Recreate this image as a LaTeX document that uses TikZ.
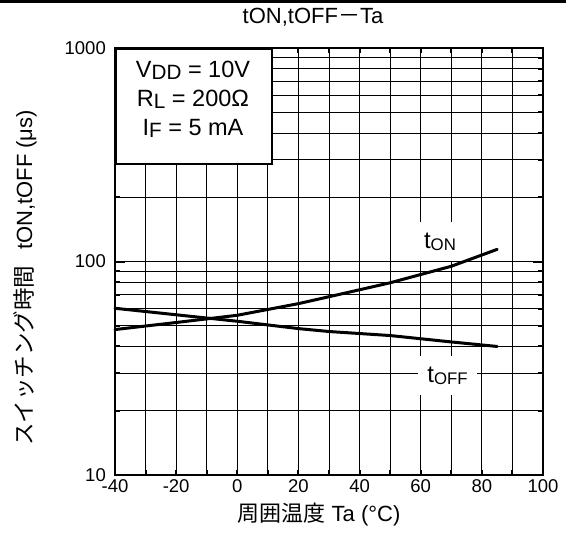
\documentclass[tikz,border=0pt]{standalone}
\usepackage{fontspec}
\setmainfont{Liberation Sans}
\newfontfamily\jpfont{Noto Sans CJK JP}
\usepackage{graphicx}
\usetikzlibrary{calc}

% lowered small letters (VDD, tON, ...)
\newcommand{\lo}[2][0.8]{\raisebox{-0.1em}{\scalebox{#1}{#2}}}

\begin{document}
\begin{tikzpicture}[x=1pt,y=1pt,
    gridline/.style={line width=0.9pt},
    tickline/.style={line width=2pt},
    frameline/.style={line width=2pt},
    curve/.style={line width=3pt, line join=round, line cap=round},
    ticklbl/.style={font=\fontsize{18.5}{18.5}\selectfont, inner sep=0pt},
    axislbl/.style={font=\fontsize{22}{22}\selectfont, inner sep=0pt},
    curvelbl/.style={fill=white, font=\fontsize{24}{24}\selectfont,
      inner sep=0pt, minimum height=39pt}]

  \useasboundingbox (0,0) rectangle (566,-533);

  % top rule
  \draw[line width=2.7pt] (0,-1.3) -- (566,-1.3);

  % title
  \node[axislbl] (title) at (313,-17) {tON,tOFF{\jpfont －}Ta};

  % plot area: x = Ta, y = log10(t)
  \begin{scope}[shift={(237.3,-688.5)}, x=3.057pt, y=213.5pt]

    % grid
    \foreach \t in {-30,-20,...,90}
      \draw[gridline] (\t,1) -- (\t,3);
    \foreach \d in {10,100}
      \foreach \m in {2,...,9}
        \draw[gridline] (-40,{log10(\m*\d)}) -- (100,{log10(\m*\d)});
    \draw[gridline] (-40,2) -- (100,2);

    % ticks
    \foreach \t in {-30,-20,...,90} {
      \draw[tickline] (\t,1) -- ++(0,5pt);
      \draw[tickline] (\t,3) -- ++(0,-5pt);
    }
    \foreach \d in {10,100}
      \foreach \m in {2,...,9} {
        \draw[tickline] (-40,{log10(\m*\d)}) -- ++(5pt,0);
        \draw[tickline] (100,{log10(\m*\d)}) -- ++(-5pt,0);
      }
    \draw[tickline] (-40,2) -- ++(10pt,0);
    \draw[tickline] (100,2) -- ++(-10pt,0);

    % frame
    \draw[frameline] (-40,1) rectangle (100,3);

    % tick labels
    \node[ticklbl, anchor=east] (y10) at ([xshift=-9pt]-40,1) {10};
    \node[ticklbl, anchor=east] (y100) at ([xshift=-9pt]-40,2) {100};
    \node[ticklbl, anchor=east] (y1000) at ([xshift=-9pt]-40,3) {1000};
    \foreach \t [count=\i] in {-40,-20,...,100}
      \node[ticklbl] (xt\i) at ([yshift=-11pt]\t,1) {\t};

    % curve labels
    \node[curvelbl, minimum width=45pt] (lon) at (66.3,{log10(124)})
    {t\lo[0.7]{ON}};
    \node[curvelbl, minimum width=59pt] (loff) at (68.8,{log10(29.1)})
    {t\lo[0.7]{OFF}};

    % curves
    \draw[curve] (-40,{log10(48)}) -- (-20,{log10(51.8)})
      -- (0,{log10(56)}) -- (20,{log10(63.5)}) -- (35,{log10(71)})
      -- (50,{log10(79.5)}) -- (70,{log10(95)}) -- (85,{log10(114)});
    \draw[curve] (-40,{log10(60.4)}) -- (-20,{log10(56.3)})
      -- (0,{log10(52.5)}) -- (20,{log10(48.5)}) -- (30,{log10(47)})
      -- (50,{log10(45)}) -- (70,{log10(42)}) -- (85,{log10(40)});
  \end{scope}

  % conditions
  \node[draw, fill=white, line width=1.5pt, anchor=north west,
    minimum width=156pt, minimum height=115pt] (cond) at (115,-48) {};
  \node[align=center, font=\fontsize{23.5}{29}\selectfont, inner sep=0pt]
  (condtxt) at (193,-99)
  {V\lo[0.88]{DD} = 10V\\ R\lo[0.88]{L} = 200Ω\\ I\lo[0.88]{F} = 5 mA};

  % axis titles
  \node[axislbl] (xlabel) at (319,-515) {{\jpfont 周囲温度} Ta (°C)};
  \node[axislbl, rotate=90] (ylabel) at (25,-278)
  {{\jpfont\fontsize{22.5}{22.5}\selectfont スイッチング時間}\hspace{16pt}tON,tOFF (μs)};

\end{tikzpicture}
\end{document}
